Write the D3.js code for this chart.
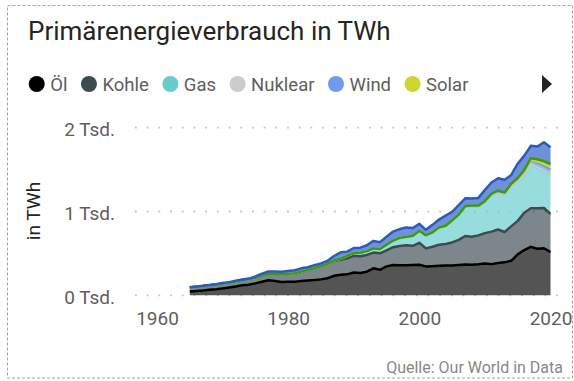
<!DOCTYPE html>
<html>
<head>
<meta charset="utf-8">
<script src="https://cdn.jsdelivr.net/npm/d3@7"></script>
<style>
  body { margin: 0; background: #fff; }
  svg { display: block; }
  text { font-family: Roboto, "Noto Sans", sans-serif; }
</style>
</head>
<body>
<svg id="chart" width="574" height="381"></svg>
<script>
// Primary energy consumption by source, TWh per year
const years = [
  1965,1966,1967,1968,1969,1970,1971,1972,1973,1974,
  1975,1976,1977,1978,1979,1980,1981,1982,1983,1984,
  1985,1986,1987,1988,1989,1990,1991,1992,1993,1994,
  1995,1996,1997,1998,1999,2000,2001,2002,2003,2004,
  2005,2006,2007,2008,2009,2010,2011,2012,2013,2014,
  2015,2016,2017,2018,2019,2020
];
const oel = [
  45,52,58,66,73,82,92,104,120,125,
  142,162,180,170,160,163,162,170,178,183,
  190,203,232,245,250,272,265,282,322,305,
  345,362,360,358,362,365,345,348,352,356,
  356,362,368,364,370,380,372,385,393,412,
  488,540,578,555,562,515
];
const kohle = [
  48,50,52,54,55,57,58,60,62,65,
  68,74,80,88,92,95,102,112,125,140,
  158,175,182,178,192,198,202,200,188,196,
  192,212,228,238,228,262,215,232,252,256,
  275,300,340,335,345,362,388,400,362,410,
  400,445,460,485,480,455
];
const gas = [
  0,0,0,0,0,0,0,0,0,0,
  0,0.1,0.1,0.1,0.1,0.1,0.1,0.5,0.5,0.4,
  0.7,0.8,5,12,30,33,41,45,49,52,
  67,79,97,101,121,143,157,171,206,217,
  264,300,355,368,350,374,438,444,447,478,
  471,455,525,487,445,472
];
const nuklear = [
  0,0,0,0,0,0,0,0,0,0,
  0,0,0,0,0,0,0,0,0,0,
  0,0,0,0,0,0,0,0,0,0,
  0,0,0,0,0,0,0,0,0,0,
  0,0,0,0,0,0,0,0,0,0,
  0,0,0,0,0,0
];
const wind = [
  0,0,0,0,0,0,0,0,0,0,
  0,0,0,0,0,0,0,0,0,0,
  0,0,0,0,0,0,0,0,0,0,
  0,0,0,0.02,0.05,0.09,0.16,0.12,0.16,0.15,
  0.15,0.3,0.9,2.2,3.8,7.4,12,15,19.5,21.6,
  29.6,39,45,50,54.5,62
];
const solar = [
  0,0,0,0,0,0,0,0,0,0,
  0,0,0,0,0,0,0,0,0,0,
  0,0,0,0,0,0,0,0,0,0,
  0,0,0,0,0,0,0,0,0,0,
  0,0,0,0,0,0,0,0,0,0.05,
  0.5,2.6,7.3,19.6,27.6,29
];
const andere = [
  0,0,0,0,0,0,0,0,0,0,
  0,0,0,0,0,0,0,0,0,0.1,
  0.2,0.2,0.2,0.2,0.2,0.2,0.2,0.2,0.2,0.2,
  0.2,0.2,0.2,0.3,0.3,0.3,0.4,0.3,0.4,0.4,
  0.4,0.6,0.9,1.2,1.5,2.8,3.5,4.3,5.5,8.4,
  10.7,14,20,26,31.6,35.7
];
const wasser = [
  2.8,3.3,3.6,3.9,4.4,8.3,7.2,8.8,7.2,9.3,
  16,23,23.5,25.5,28,31,34,39,31,36,
  32,32,50,78,49,61,60,70,90,81,
  94,107,105,112,92,82,64,89,93,122,
  101,113,92,85,92,132,133,148,151,104,
  171,171,148,152,225,198
];

const seriesNames = ["Öl", "Kohle", "Gas", "Nuklear", "Wind", "Solar", "Andere Erneuerbare", "Wasserkraft"];
const seriesValues = [oel, kohle, gas, nuklear, wind, solar, andere, wasser];
const seriesColors = ["#000000", "#3d4b51", "#66cccc", "#cccccc", "#6f9be8", "#cfd530", "#3a9a14", "#2a5bc3"];
const legendShown = 6;

const yTicks = [0, 1000, 2000];
const xTicks = [1960, 1980, 2000, 2020];

const svg = d3.select("#chart");

// visual frame
svg.append("defs").append("clipPath").attr("id", "frameClip")
  .append("rect").attr("x", 7).attr("y", 5).attr("width", 565.5).attr("height", 373);
svg.append("rect")
  .attr("x", 7.5).attr("y", 5.5).attr("width", 565).attr("height", 372.5)
  .attr("fill", "none").attr("stroke", "#a3a3a3").attr("stroke-width", 1)
  .attr("stroke-dasharray", "3,2");

const root = svg.append("g").attr("clip-path", "url(#frameClip)");

// title
root.append("text")
  .attr("x", 28).attr("y", 40)
  .attr("font-size", 26).attr("fill", "#252423")
  .text("Primärenergieverbrauch in TWh");

// legend
const legend = root.append("g");
let lx = 28.7;
const ly = 84, lr = 8;
seriesNames.slice(0, legendShown).forEach((name, i) => {
  legend.append("circle")
    .attr("cx", lx + lr).attr("cy", ly).attr("r", lr)
    .attr("fill", seriesColors[i]);
  const t = legend.append("text")
    .attr("x", lx + 2 * lr + 5.5).attr("y", ly).attr("dy", "0.36em")
    .attr("font-size", 18.5).attr("fill", "#605e5c")
    .text(name);
  lx = lx + 2 * lr + 5.5 + t.node().getComputedTextLength() + 13.5;
});
legend.append("path")
  .attr("d", "M542,75L552,84L542,93Z")
  .attr("fill", "#252423");

// scales
const x = d3.scaleLinear().domain([1960, 2020]).range([157, 550.5]);
const y = d3.scaleLinear().domain([0, 2000]).range([295.3, 127.7]);

// dotted gridlines
root.append("g").selectAll("line").data(yTicks).join("line")
  .attr("x1", 135).attr("x2", 564)
  .attr("y1", d => y(d)).attr("y2", d => y(d))
  .attr("stroke", "#c4c4c4").attr("stroke-width", 1.8)
  .attr("stroke-dasharray", "1.8,9.9");

// stacked areas
const table = years.map((yr, i) => {
  const row = { year: yr };
  seriesNames.forEach((n, k) => { row[n] = seriesValues[k][i]; });
  return row;
});
const stacked = d3.stack().keys(seriesNames)(table);

const area = d3.area()
  .x(d => x(d.data.year))
  .y0(d => y(d[0]))
  .y1(d => y(d[1]));
const topLine = d3.line()
  .x(d => x(d.data.year))
  .y(d => y(d[1]));

const plot = root.append("g");
plot.selectAll("path.area").data(stacked).join("path")
  .attr("class", "area")
  .attr("d", area)
  .attr("fill", (d, i) => seriesColors[i])
  .attr("fill-opacity", 0.67);

plot.selectAll("path.edge").data(stacked).join("path")
  .attr("class", "edge")
  .attr("d", topLine)
  .attr("fill", "none")
  .attr("stroke", (d, i) => seriesColors[i])
  .attr("stroke-width", (d, i) => (i >= 3 && i <= 5) ? 2 : 2.5)
  .attr("stroke-linejoin", "round");

// axes
const yAxis = root.append("g")
  .attr("transform", "translate(115,0)")
  .call(d3.axisLeft(y).tickValues(yTicks).tickSize(0).tickPadding(0)
    .tickFormat(d => `${d / 1000} Tsd.`));
yAxis.select(".domain").remove();
yAxis.attr("font-family", null).attr("font-size", null);
yAxis.selectAll("text")
  .attr("font-size", 19).attr("fill", "#605e5c").attr("dy", "0.41em");

const xAxis = root.append("g")
  .attr("transform", "translate(0,295.3)")
  .call(d3.axisBottom(x).tickValues(xTicks).tickSize(0).tickPadding(16.4)
    .tickFormat(d3.format("d")));
xAxis.select(".domain").remove();
xAxis.attr("font-family", null).attr("font-size", null);
xAxis.selectAll("text")
  .attr("font-size", 19).attr("fill", "#605e5c");

// axis title
root.append("text")
  .attr("transform", "translate(40,211) rotate(-90)")
  .attr("text-anchor", "middle")
  .attr("font-size", 19).attr("fill", "#252423")
  .text("in TWh");

// source note
root.append("text")
  .attr("x", 563).attr("y", 373)
  .attr("text-anchor", "end")
  .attr("font-size", 16).attr("fill", "#8a8886")
  .text("Quelle: Our World in Data");
</script>
</body>
</html>
